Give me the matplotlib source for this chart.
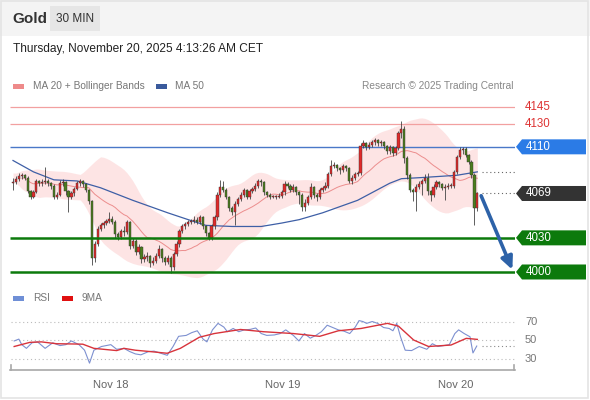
import numpy as np
import pandas as pd
import matplotlib
matplotlib.use('Agg')
import matplotlib.pyplot as plt
from matplotlib.patches import Polygon, Rectangle
from matplotlib.transforms import blended_transform_factory

plt.rcParams['font.family'] = ['Liberation Sans', 'DejaVu Sans']

# %% data (30 min candles)
closes = [4079, 4082, 4084, 4085, 4083, 4071, 4066, 4070, 4080, 4078,
          4079, 4080, 4078, 4076, 4066, 4068, 4078, 4079, 4071, 4066,
          4069, 4073, 4078, 4080, 4077, 4072, 4062, 4012, 4025, 4038,
          4041, 4043, 4045, 4047, 4044, 4033, 4031, 4036, 4035, 4044,
          4023, 4027, 4018, 4022, 4011, 4013, 4014, 4008, 4010, 4014,
          4020, 4012, 4009, 4012, 4004, 4016, 4025, 4036, 4040, 4042,
          4044, 4045, 4046, 4044, 4048, 4040, 4034, 4030, 4040, 4048,
          4068, 4075, 4072, 4066, 4056, 4053, 4060, 4064, 4068, 4072,
          4066, 4071, 4073, 4076, 4080, 4079, 4070, 4068, 4066, 4066,
          4066, 4067, 4070, 4077, 4076, 4072, 4075, 4070, 4068, 4057,
          4061, 4066, 4075, 4068, 4066, 4072, 4074, 4076, 4086, 4093,
          4094, 4091, 4090, 4093, 4091, 4080, 4083, 4086, 4087, 4111,
          4113, 4110, 4112, 4114, 4116, 4113, 4114, 4111, 4106, 4110,
          4105, 4109, 4122, 4126, 4100, 4085, 4072, 4070, 4075, 4077,
          4080, 4083, 4071, 4068, 4075, 4079, 4077, 4074, 4075, 4076,
          4076, 4088, 4101, 4107, 4108, 4103, 4097, 4085, 4056, 4069]
highs = [4083, 4084, 4087, 4087, 4086, 4084, 4072, 4072, 4082, 4081,
         4082, 4092, 4082, 4079, 4077, 4070, 4081, 4082, 4080, 4072,
         4071, 4075, 4080, 4082, 4081, 4078, 4073, 4063, 4027, 4040,
         4043, 4045, 4047, 4053, 4049, 4046, 4035, 4038, 4040, 4046,
         4045, 4030, 4029, 4025, 4023, 4016, 4018, 4015, 4013, 4017,
         4024, 4021, 4014, 4015, 4014, 4018, 4027, 4038, 4042, 4044,
         4046, 4047, 4049, 4048, 4050, 4049, 4041, 4035, 4042, 4050,
         4070, 4081, 4080, 4074, 4067, 4058, 4062, 4066, 4070, 4074,
         4073, 4073, 4075, 4078, 4082, 4082, 4080, 4071, 4069, 4068,
         4068, 4069, 4072, 4080, 4079, 4077, 4077, 4076, 4071, 4069,
         4064, 4068, 4078, 4076, 4069, 4074, 4076, 4079, 4088, 4098,
         4097, 4095, 4092, 4095, 4094, 4092, 4085, 4088, 4089, 4113,
         4116, 4114, 4114, 4116, 4118, 4117, 4116, 4115, 4112, 4112,
         4111, 4111, 4124, 4133, 4128, 4102, 4087, 4074, 4077, 4080,
         4082, 4086, 4087, 4072, 4077, 4081, 4080, 4078, 4077, 4078,
         4078, 4090, 4103, 4110, 4110, 4110, 4104, 4098, 4087, 4070]
lows = [4072, 4077, 4080, 4082, 4081, 4069, 4064, 4065, 4069, 4076,
        4076, 4077, 4076, 4073, 4064, 4064, 4067, 4076, 4068, 4053,
        4064, 4067, 4072, 4076, 4075, 4070, 4060, 4006, 4009, 4023,
        4036, 4039, 4041, 4043, 4042, 4030, 4028, 4029, 4032, 4033,
        4020, 4021, 4015, 4016, 4008, 4009, 4010, 4004, 4006, 4008,
        4012, 4009, 4006, 4007, 3999, 4002, 4014, 4022, 4034, 4038,
        4040, 4042, 4043, 4042, 4042, 4038, 4032, 4028, 4028, 4038,
        4046, 4066, 4070, 4064, 4054, 4050, 4041, 4058, 4062, 4066,
        4064, 4064, 4069, 4071, 4074, 4076, 4068, 4066, 4064, 4065,
        4064, 4065, 4065, 4068, 4074, 4070, 4070, 4068, 4060, 4054,
        4054, 4059, 4064, 4065, 4062, 4064, 4070, 4072, 4074, 4084,
        4091, 4089, 4086, 4088, 4089, 4078, 4077, 4081, 4084, 4085,
        4109, 4107, 4108, 4110, 4112, 4111, 4111, 4108, 4104, 4104,
        4102, 4103, 4107, 4118, 4096, 4082, 4070, 4062, 4054, 4073,
        4068, 4078, 4068, 4062, 4066, 4073, 4075, 4072, 4063, 4073,
        4074, 4074, 4086, 4099, 4104, 4101, 4095, 4083, 4041, 4054]
first_open = 4078

ma50_idx = [0, 7, 14, 22, 30, 41, 53, 60, 66, 75, 85, 92, 98, 106, 118, 129, 133, 140, 152, 159]
ma50_val = [4098, 4088, 4081, 4080, 4074, 4063, 4052, 4046, 4041, 4040, 4040, 4043, 4046, 4052,
            4063, 4078, 4082, 4083, 4085, 4088]

rsi_idx = [0.4, 2, 3, 4.6, 6.5, 8.4, 11, 13.6, 16.1, 18.1, 20, 22.6, 24.5, 26.2, 27.7, 30.3,
           33.5, 35.5, 38, 40, 41.9, 43.8, 46.4, 48.3, 50.3, 52.8, 54.8, 56.7, 59.3, 61.2,
           63.1, 65.1, 66.4, 68.3, 70.2, 72.2, 73.4, 75.4, 77.3, 79.2, 81.2, 83.1, 85, 86.9,
           89.5, 91.5, 93.4, 96, 97.9, 99.8, 101.8, 103.7, 105.6, 107.6, 109.5, 111.4, 113.4,
           115.3, 117.2, 118.5, 119.8, 121.1, 123, 124.9, 126.9, 128.8, 130.1, 131.4, 132.7,
           134.3, 136.5, 139.1, 141.7, 143.6, 145.5, 147.5, 149.4, 151.3, 152.6, 154.5, 156.5,
           157.5, 158.8]
rsi_val = [49, 51, 45, 41, 47, 48, 41, 47, 44, 45, 49, 45, 39, 25, 39, 43,
           45, 40, 41, 37.5, 35, 34, 37.5, 38, 36, 33.5, 43, 54, 55, 58,
           60, 51, 48, 61, 68, 64, 59, 62.5, 59, 61, 61.5, 63, 57, 55,
           55.5, 57, 61, 55, 49, 57, 52, 55, 59, 66, 63.5, 61, 59.5,
           57, 64, 71, 70, 68, 70, 68, 63.5, 62.5, 60, 68, 53.5,
           39, 38.6, 43, 40, 46, 43, 44, 45, 57, 61, 57, 53.5,
           36, 43.5]
rsi_ma_idx = [0.4, 5.8, 9.7, 14.9, 21.3, 23.9, 27.7, 35.5, 38, 41.9, 47, 52.8, 57.3, 63.8,
              68.9, 77.9, 85.7, 96, 105, 111.4, 119.2, 128.2, 132, 137.2, 142.3, 150, 155.2, 159]
rsi_ma_val = [43, 47.5, 48, 46, 45.7, 45.5, 41, 38.6, 41, 39, 37.5, 35.7, 41, 53,
              57, 61.4, 59, 57, 54, 60, 62.5, 68, 65, 50, 43, 44.6, 51.8, 50.7]

day_ticks = [33.5, 92.5, 151.5]
day_labels = ['Nov 18', 'Nov 19', 'Nov 20']

red_levels = [4145, 4130]
blue_level = 4110
green_levels = [4030, 4000]
last_price = 4069
target_price = 4000

RED_UP = '#e02a2a'
GREEN_DN = '#4b7d1e'

W, H = 590, 400


def fx(px):
    return px / W


def fy(py):
    return 1 - py / H


def run():
    n = len(closes)
    idx = np.arange(n)
    c = np.array(closes, dtype=float)
    o = np.concatenate([[first_open], c[:-1]])
    hi = np.array(highs, dtype=float)
    lo = np.array(lows, dtype=float)

    s = pd.Series(c)
    ma20 = s.rolling(20, min_periods=4).mean()
    sd20 = s.rolling(20, min_periods=4).std(ddof=0)
    # the source draws the bands softened, so smooth them a bit
    bb_up = (ma20 + 2 * sd20).rolling(7, center=True, min_periods=1).mean()
    bb_lo = (ma20 - 2 * sd20).rolling(7, center=True, min_periods=1).mean()

    fig = plt.figure(figsize=(W / 100, H / 100), dpi=100)
    fig.patch.set_facecolor('white')
    fig.add_artist(Rectangle((0, fy(36)), 1, 36 / H, transform=fig.transFigure,
                             facecolor='#f4f4f4', edgecolor='none', zorder=0))
    fig.add_artist(Rectangle((fx(1), fy(398)), fx(587), 397 / H, transform=fig.transFigure,
                             facecolor='none', edgecolor='#e4e4e4', lw=1.2, zorder=0))

    # header
    fig.add_artist(Rectangle((fx(50), fy(31)), fx(50), 25 / H, transform=fig.transFigure,
                             facecolor='#e6e6e6', edgecolor='none'))
    fig.text(fx(12), fy(19), 'Gold', fontsize=11, fontweight='bold', color='#333', va='center')
    fig.text(fx(75), fy(19), '30 MIN', fontsize=8.5, color='#333', va='center', ha='center')
    fig.text(fx(13), fy(49), 'Thursday, November 20, 2025 4:13:26 AM CET', fontsize=8.6,
             color='#222', va='center')

    # legend row
    fig.add_artist(Rectangle((fx(13), fy(89)), fx(11), 5 / H, transform=fig.transFigure,
                             facecolor='#ee8a8a', edgecolor='none'))
    fig.text(fx(33), fy(86), 'MA 20 + Bollinger Bands', fontsize=7.3, color='#777', va='center')
    fig.add_artist(Rectangle((fx(156), fy(89)), fx(11), 5 / H, transform=fig.transFigure,
                             facecolor='#3a5a9c', edgecolor='none'))
    fig.text(fx(175), fy(86), 'MA 50', fontsize=7.3, color='#777', va='center')
    fig.text(fx(513), fy(86), 'Research \u00a9 2025 Trading Central', fontsize=7.3, color='#888',
             va='center', ha='right')

    # %% price panel
    ax = fig.add_axes([fx(10), fy(282), fx(505), 185 / H])
    xmin, xmax = -1.03, 171.9
    ax.set_xlim(xmin, xmax)
    ax.set_ylim(3991.2, 4153.8)
    ax.axis('off')

    ax.fill_between(idx, bb_lo, bb_up, color='#fde0e0', alpha=0.85, lw=0, zorder=1)
    ax.plot(idx, ma20, color='#ec8d8d', lw=0.7, zorder=2)
    ax.plot(ma50_idx, ma50_val, color='#3e5fa6', lw=0.9, zorder=2)

    ax.hlines(red_levels, xmin, xmax, color='#f2a0a0', lw=0.9, zorder=2)
    ax.hlines(blue_level, xmin, xmax, color='#4a78c8', lw=1.0, zorder=2)
    ax.hlines(green_levels, xmin, xmax, color='#0c7a0c', lw=1.8, zorder=4)
    ax.hlines([ma50_val[-1], last_price], n + 0.5, xmax, color='#666', lw=0.8,
              linestyles=(0, (1, 2.5)), zorder=2)

    up = c >= o
    colors = np.where(up, RED_UP, GREEN_DN)
    ax.vlines(idx, lo, hi, color='#444', lw=0.6, zorder=3)
    body = np.maximum(np.abs(c - o), 0.6)
    ax.bar(idx, body, bottom=np.minimum(o, c), width=0.75, color=colors,
           edgecolor='#333', linewidth=0.3, zorder=3)

    ax.annotate('', xy=(171.0, target_price + 2), xytext=(n + 0.3, last_price - 2),
                arrowprops=dict(arrowstyle='-|>,head_width=0.35,head_length=0.75',
                                color='#2d62a8', lw=2.6, shrinkA=0, shrinkB=0), zorder=5)

    # right side tags
    tr = blended_transform_factory(fig.transFigure, ax.transData)
    hh = 7.5 / 1.138
    for lvl in red_levels:
        ax.text(fx(525), lvl, str(lvl), transform=tr, fontsize=8.3, color='#d33', va='center')
    tags = [(blue_level, '#2b7be6'), (last_price, '#333333'),
            (green_levels[0], '#0c7a0c'), (green_levels[1], '#0c7a0c')]
    for lvl, col in tags:
        pts = [(fx(516), lvl), (fx(522), lvl + hh), (fx(586), lvl + hh),
               (fx(586), lvl - hh), (fx(522), lvl - hh)]
        ax.add_patch(Polygon(pts, closed=True, transform=tr, facecolor=col,
                             edgecolor='none', clip_on=False))
        ax.text(fx(526), lvl, str(lvl), transform=tr, fontsize=8.3, color='white',
                va='center', clip_on=False)

    # %% RSI panel
    fig.add_artist(Rectangle((fx(13), fy(300.5)), fx(11), 5 / H, transform=fig.transFigure,
                             facecolor='#6f8fd6', edgecolor='none'))
    fig.text(fx(33), fy(298), 'RSI', fontsize=7.3, color='#777', va='center')
    fig.add_artist(Rectangle((fx(62), fy(300.5)), fx(11), 5 / H, transform=fig.transFigure,
                             facecolor='#e01010', edgecolor='none'))
    fig.text(fx(82), fy(298), '9MA', fontsize=7.3, color='#777', va='center')

    rax = fig.add_axes([fx(10), fy(370), fx(505), 58 / H])
    rax.set_xlim(xmin, xmax)
    rax.set_ylim(17.6, 80.3)
    for sp in ['top', 'right', 'left']:
        rax.spines[sp].set_visible(False)
    rax.spines['bottom'].set_color('#a8a8a8')
    rax.spines['bottom'].set_linewidth(1.2)
    rax.set_yticks([])
    rax.set_xticks(day_ticks)
    rax.set_xticklabels(day_labels)
    rax.tick_params(axis='x', length=0, labelsize=8, labelcolor='#666', pad=7)
    for xe in (xmin + 0.2, xmax - 0.2):
        rax.plot([xe, xe], [17.6, 23], color='#a8a8a8', lw=1.2, clip_on=False)

    rax.hlines([70, 50, 30], xmin + 0.5, xmax - 0.5, color='#bbb', lw=0.8,
               linestyles=(0, (1, 2.5)))
    rax.hlines(rsi_val[-1], n + 0.5, xmax - 0.5, color='#888', lw=0.8, linestyles=(0, (1, 2.5)))
    rax.plot(rsi_idx, rsi_val, color='#7d90d0', lw=0.8)
    rax.plot(rsi_ma_idx, rsi_ma_val, color='#d8333b', lw=1.0)
    for v in (70, 50, 30):
        rax.text(fx(525), v, str(v), transform=blended_transform_factory(fig.transFigure, rax.transData),
                 fontsize=8, color='#777', va='center')

    fig.savefig('out.png', dpi=100)
    plt.close('all')


if __name__ == '__main__':
    run()
